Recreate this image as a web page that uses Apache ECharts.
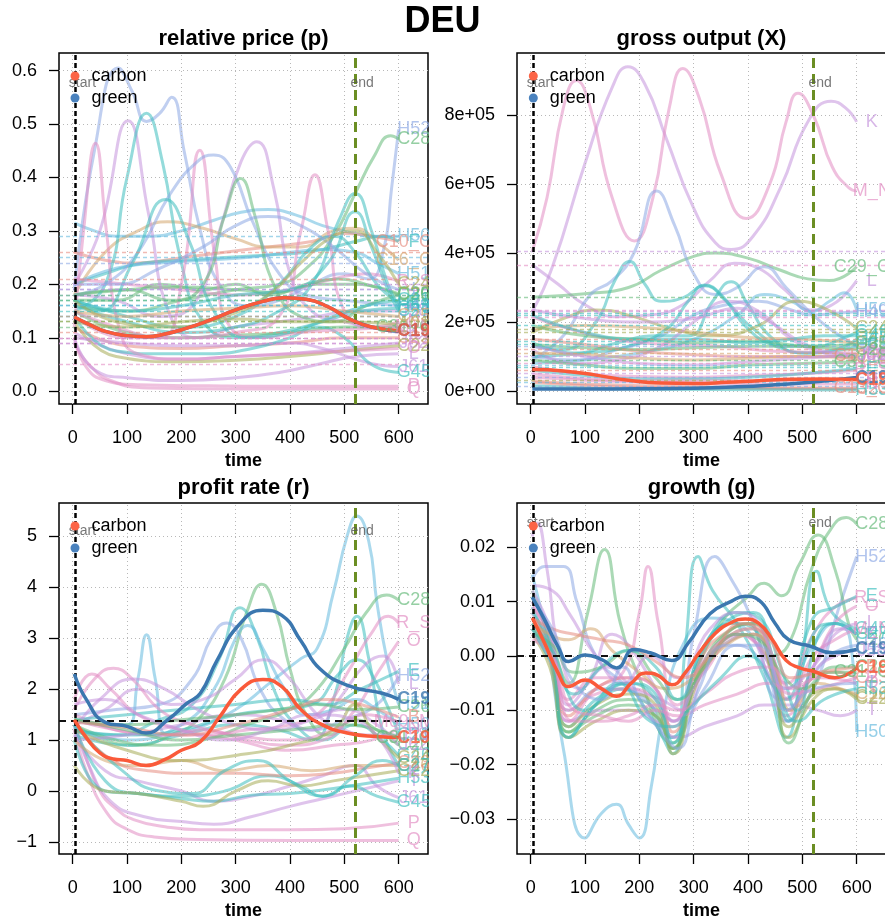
<!DOCTYPE html>
<html><head><meta charset="utf-8">
<script src="https://cdn.jsdelivr.net/npm/echarts@6/dist/echarts.min.js"></script>
<style>
body{margin:0;background:#fff;width:885px;height:921px;overflow:hidden;position:relative;font-family:"Liberation Sans",Arial,sans-serif}
.p{position:absolute;overflow:hidden}
#title{position:absolute;left:0;top:2px;width:885px;text-align:center;font-weight:bold;font-size:36px;line-height:36px;color:#000;z-index:5}
</style></head>
<body>
<div id="title">DEU</div>
<div id="c1" class="p" style="left:0;top:0;width:429px;height:475px"></div>
<div id="c2" class="p" style="left:429px;top:0;width:456px;height:475px"></div>
<div id="c3" class="p" style="left:0;top:460px;width:429px;height:461px"></div>
<div id="c4" class="p" style="left:429px;top:460px;width:456px;height:461px"></div>
<script>
// ================= DATA =================
const xTicks = [0,100,200,300,400,500,600];
const startTime = 5, endTime = 520;

// ---- relative price (p)
const priceTicks = [0,0.1,0.2,0.3,0.4,0.5,0.6];
const priceCarbon = [[3,0.139],[30,0.125],[60,0.112],[100,0.104],[135,0.102],[170,0.107],[210,0.118],[250,0.132],[300,0.152],[350,0.168],[390,0.175],[430,0.172],[470,0.158],[510,0.135],[550,0.12],[600,0.113]];
const priceGreen = [[3,0.139],[30,0.125],[60,0.112],[100,0.104],[135,0.102],[170,0.107],[210,0.118],[250,0.132],[300,0.152],[350,0.168],[390,0.175],[430,0.172],[470,0.158],[510,0.135],[550,0.12],[600,0.112]];
const priceRefs = [0.29,0.262,0.25,0.245,0.212,0.197,0.19,0.186,0.18,0.176,0.171,0.166,0.161,0.156,0.15,0.145,0.14,0.135,0.13,0.125,0.12,0.11,0.104,0.1,0.09,0.085,0.052];
const priceLines = [
 ['H52',[[3,0.19],[40,0.45],[84,0.605],[110,0.56],[136,0.505],[160,0.52],[182,0.55],[205,0.45],[235,0.3],[270,0.2],[320,0.16],[380,0.17],[440,0.2],[500,0.22],[545,0.21],[572,0.264],[587,0.38],[600,0.49]]],
 ['C28',[[3,0.16],[100,0.15],[200,0.17],[300,0.19],[380,0.2],[430,0.23],[480,0.29],[520,0.37],[555,0.44],[585,0.478],[600,0.472]]],
 ['H50',[[3,0.315],[40,0.3],[80,0.29],[140,0.29],[200,0.3],[260,0.32],[310,0.335],[360,0.34],[410,0.33],[460,0.31],[520,0.295],[560,0.29],[600,0.29]]],
 ['C10_C12',[[3,0.26],[60,0.245],[120,0.24],[200,0.25],[280,0.26],[360,0.27],[440,0.28],[500,0.295],[550,0.29],[600,0.28]]],
 ['F',[[3,0.2],[60,0.22],[130,0.24],[200,0.245],[280,0.25],[360,0.255],[430,0.26],[480,0.27],[520,0.28],[570,0.29],[600,0.28]]],
 ['C16_C18',[[3,0.18],[60,0.26],[120,0.3],[175,0.317],[240,0.305],[300,0.285],[360,0.27],[420,0.27],[480,0.3],[520,0.305],[560,0.28],[600,0.245]]],
 ['H51',[[3,0.2],[80,0.23],[160,0.24],[240,0.245],[320,0.25],[400,0.26],[460,0.265],[520,0.26],[560,0.24],[600,0.22]]],
 ['R_S',[[3,0.21],[100,0.2],[200,0.19],[300,0.18],[400,0.19],[480,0.21],[540,0.22],[600,0.205]]],
 ['C20',[[3,0.18],[100,0.19],[200,0.195],[300,0.19],[380,0.185],[450,0.2],[520,0.2],[600,0.182]]],
 ['D35',[[3,0.17],[80,0.17],[160,0.2],[240,0.19],[300,0.2],[360,0.18],[430,0.2],[490,0.21],[540,0.2],[600,0.18]]],
 ['E',[[3,0.17],[100,0.14],[200,0.12],[300,0.14],[380,0.2],[440,0.27],[480,0.29],[520,0.26],[560,0.2],[600,0.165]]],
 ['J58',[[3,0.2],[50,0.3],[102,0.506],[140,0.33],[180,0.14],[230,0.1],[300,0.12],[380,0.13],[450,0.14],[520,0.15],[600,0.15]]],
 ['G46',[[3,0.15],[60,0.2],[100,0.4],[136,0.52],[165,0.43],[200,0.24],[240,0.13],[300,0.1],[380,0.11],[460,0.13],[530,0.15],[600,0.155]]],
 ['C31_C32',[[3,0.15],[100,0.11],[200,0.1],[300,0.105],[400,0.11],[500,0.12],[600,0.12]]],
 ['C23',[[3,0.12],[100,0.085],[200,0.08],[300,0.085],[400,0.09],[500,0.1],[600,0.1]]],
 ['J62',[[3,0.11],[100,0.07],[200,0.06],[300,0.065],[400,0.07],[500,0.08],[600,0.09]]],
 ['C22',[[3,0.13],[80,0.065],[200,0.055],[300,0.058],[400,0.065],[500,0.075],[600,0.085]]],
 ['J61',[[3,0.1],[100,0.09],[200,0.085],[300,0.085],[400,0.09],[460,0.08],[520,0.06],[570,0.048],[600,0.046]]],
 ['G45',[[3,0.14],[80,0.075],[160,0.07],[250,0.07],[330,0.08],[400,0.1],[450,0.12],[500,0.1],[550,0.05],[600,0.035]]],
 ['P',[[3,0.1],[25,0.045],[60,0.02],[120,0.012],[250,0.01],[400,0.009],[600,0.009]]],
 ['Q',[[3,0.09],[30,0.05],[70,0.02],[140,0.006],[300,0.004],[600,0.004]]],
 ['O',[[3,0.12],[20,0.3],[42,0.464],[62,0.3],[85,0.12],[120,0.07],[200,0.06],[300,0.065],[400,0.07],[500,0.075],[600,0.08]]],
 ['M_N',[[3,0.15],[80,0.12],[160,0.1],[200,0.2],[234,0.451],[262,0.25],[290,0.12],[350,0.1],[420,0.11],[500,0.115],[600,0.12]]],
 ['N',[[3,0.14],[100,0.1],[200,0.1],[300,0.11],[380,0.14],[420,0.3],[446,0.405],[470,0.3],[500,0.15],[550,0.12],[600,0.13]]],
 ['K',[[3,0.18],[80,0.17],[160,0.14],[220,0.16],[270,0.3],[310,0.43],[339,0.467],[370,0.38],[400,0.22],[440,0.15],[500,0.13],[600,0.11]]],
 ['H49',[[3,0.18],[60,0.2],[120,0.26],[180,0.37],[230,0.43],[259,0.442],[290,0.42],[330,0.32],[380,0.22],[430,0.18],[500,0.17],[600,0.16]]],
 ['C26',[[3,0.18],[100,0.19],[180,0.17],[240,0.2],[280,0.33],[309,0.398],[335,0.33],[370,0.2],[420,0.14],[480,0.13],[540,0.16],[600,0.18]]],
 ['C21',[[3,0.17],[50,0.15],[110,0.24],[171,0.359],[215,0.28],[260,0.15],[320,0.1],[400,0.11],[480,0.14],[540,0.16],[600,0.17]]],
 ['H53',[[3,0.16],[100,0.13],[200,0.11],[300,0.12],[380,0.15],[440,0.2],[490,0.32],[520,0.37],[550,0.3],[580,0.2],[600,0.16]]],
 ['C27',[[3,0.17],[100,0.15],[200,0.16],[300,0.18],[400,0.19],[470,0.24],[520,0.336],[550,0.27],[580,0.19],[600,0.15]]],
 ['I',[[3,0.2],[80,0.2],[160,0.23],[240,0.27],[300,0.31],[360,0.327],[420,0.31],[480,0.27],[540,0.22],[600,0.19]]],
 ['C24',[[3,0.17],[80,0.13],[180,0.12],[280,0.14],[360,0.18],[420,0.24],[480,0.29],[520,0.3],[560,0.26],[600,0.2]]],
 ['L',[[3,0.1],[40,0.04],[100,0.025],[200,0.02],[300,0.025],[380,0.035],[450,0.05],[520,0.065],[600,0.07]]],
 ['A01',[[3,0.13],[100,0.12],[200,0.13],[300,0.135],[400,0.13],[500,0.13],[600,0.125]]],
 ['C25',[[3,0.15],[100,0.14],[200,0.15],[300,0.155],[400,0.16],[500,0.15],[600,0.14]]]
];

// ---- gross output (X)
const outputTicks = [0,200000,400000,600000,800000];
const outputCarbon = [[3,62000],[60,58000],[120,46000],[180,31000],[240,23000],[300,22000],[360,25000],[420,30000],[480,34000],[540,35000],[600,33000]];
const outputGreen = [[3,6000],[100,6000],[200,6500],[300,8000],[380,12000],[450,18000],[520,26000],[600,39000]];
const outputRefs = [405000,365000,272000,235000,230000,225000,220000,215000,190000,180000,170000,150000,145000,135000,130000,120000,110000,100000,90000,80000,75000,70000,60000,50000,40000,30000,25000,15000];
const outputLines = [
 ['K',[[3,230000],[40,360000],[100,660000],[150,880000],[179,940000],[210,890000],[250,730000],[300,530000],[340,430000],[369,410000],[410,450000],[460,590000],[510,780000],[553,840000],[580,820000],[600,780000]]],
 ['M_N',[[3,405000],[30,560000],[60,820000],[84,900000],[110,820000],[150,560000],[191,435000],[225,560000],[255,820000],[280,935000],[310,850000],[350,630000],[397,500000],[440,600000],[470,780000],[492,863000],[520,800000],[555,650000],[585,590000],[600,580000]]],
 ['L',[[3,365000],[50,310000],[100,250000],[160,215000],[220,220000],[280,250000],[330,320000],[375,370000],[420,355000],[470,290000],[515,235000],[555,250000],[600,320000]]],
 ['C29_C30',[[3,272000],[100,282000],[180,300000],[240,350000],[300,390000],[340,400000],[400,385000],[460,350000],[510,325000],[550,320000],[600,360000]]],
 ['H52',[[3,90000],[60,160000],[110,280000],[150,320000],[190,400000],[232,580000],[265,480000],[300,340000],[340,280000],[380,300000],[430,360000],[470,300000],[520,220000],[560,170000],[600,130000]]],
 ['H50',[[3,80000],[100,90000],[200,110000],[300,150000],[380,220000],[430,280000],[480,260000],[516,230000],[550,260000],[578,285000],[600,235000]]],
 ['H49',[[3,100000],[80,90000],[160,120000],[240,160000],[300,220000],[360,250000],[420,260000],[470,240000],[520,220000],[560,225000],[600,230000]]],
 ['G46',[[3,130000],[60,120000],[120,200000],[155,320000],[182,375000],[210,310000],[240,260000],[280,270000],[320,305000],[360,260000],[410,180000],[470,130000],[530,130000],[570,150000],[600,170000]]],
 ['G45',[[3,140000],[80,110000],[160,140000],[230,160000],[290,160000],[335,260000],[369,317000],[400,250000],[440,160000],[500,110000],[560,120000],[600,150000]]],
 ['C24',[[3,170000],[60,210000],[120,235000],[180,220000],[260,180000],[340,160000],[420,190000],[490,260000],[540,240000],[600,182000]]],
 ['C25',[[3,180000],[100,190000],[200,185000],[300,170000],[400,155000],[500,150000],[600,140000]]],
 ['J62',[[3,120000],[80,80000],[160,90000],[240,130000],[300,200000],[363,260000],[420,230000],[480,150000],[540,110000],[600,95000]]],
 ['F',[[3,100000],[100,110000],[180,130000],[250,180000],[290,260000],[320,307000],[350,280000],[400,180000],[450,130000],[520,110000],[600,130000]]],
 ['C10_C12',[[3,150000],[100,135000],[200,115000],[300,105000],[400,100000],[500,100000],[600,100000]]],
 ['C16',[[3,110000],[100,105000],[200,95000],[300,90000],[400,95000],[500,100000],[600,95000]]],
 ['J58',[[3,130000],[100,100000],[200,80000],[300,75000],[400,85000],[500,95000],[600,105000]]],
 ['C31_C32',[[3,90000],[100,75000],[200,65000],[300,65000],[400,75000],[500,80000],[600,85000]]],
 ['R_S',[[3,70000],[100,50000],[200,42000],[300,40000],[400,45000],[500,50000],[600,60000]]],
 ['E',[[3,60000],[100,45000],[200,35000],[300,35000],[400,40000],[500,50000],[600,65000]]],
 ['C13_C15',[[3,30000],[100,20000],[300,12000],[600,8000]]],
 ['C23',[[3,25000],[200,10000],[600,6000]]],
 ['H53',[[3,15000],[200,5000],[600,3000]]],
 ['O',[[3,215000],[60,185000],[150,150000],[250,135000],[350,130000],[450,115000],[600,110000]]],
 ['J61',[[3,235000],[100,210000],[200,200000],[300,210000],[380,240000],[440,200000],[500,140000],[560,110000],[600,105000]]],
 ['C28',[[3,190000],[100,160000],[200,150000],[300,140000],[400,145000],[500,130000],[600,120000]]],
 ['G47',[[3,220000],[100,170000],[200,150000],[300,150000],[400,140000],[480,150000],[540,160000],[600,160000]]],
 ['P',[[3,50000],[200,30000],[400,30000],[600,35000]]],
 ['N',[[3,40000],[200,25000],[400,20000],[600,20000]]],
 ['D35',[[3,135000],[100,125000],[200,120000],[300,125000],[400,130000],[500,130000],[600,135000]]]
];

// ---- profit rate (r)
const profitTicks = [-1,0,1,2,3,4,5];
const profitLevel = 1.39;
const profitCarbon = [[3,1.4],[25,1.05],[50,0.75],[75,0.63],[100,0.6],[135,0.5],[170,0.62],[200,0.8],[235,0.97],[270,1.45],[310,2.0],[350,2.19],[385,2.05],[420,1.6],[460,1.3],[510,1.13],[560,1.07],[600,1.05]];
const profitGreen = [[3,2.3],[25,1.8],[60,1.35],[100,1.27],[135,1.14],[175,1.4],[210,1.72],[235,1.92],[265,2.55],[305,3.25],[350,3.55],[385,3.45],[420,2.95],[455,2.4],[510,2.06],[570,1.92],[600,1.8]];
const profitLines = [
 ['H51',[[3,1.4],[60,1.3],[100,1.3],[120,2.2],[136,3.07],[152,2.2],[175,1.1],[220,1.2],[300,1.6],[360,2.1],[420,2.6],[450,2.8],[480,3.9],[505,5.0],[523,5.4],[545,4.9],[560,3.7],[580,2.5],[600,1.7]]],
 ['C20',[[3,1.3],[60,1.0],[120,0.9],[180,1.1],[230,1.4],[280,2.2],[320,3.5],[348,4.06],[375,3.5],[400,2.4],[430,1.5],[470,1.1],[520,1.4],[560,1.2],[600,0.9]]],
 ['G46',[[3,1.2],[80,1.1],[160,1.4],[220,1.7],[270,2.6],[308,3.6],[340,3.0],[370,2.0],[410,1.3],[460,1.0],[520,1.3],[570,1.0],[600,0.7]]],
 ['H52',[[3,1.5],[80,1.6],[160,1.7],[220,2.2],[255,3.0],[283,3.3],[310,3.0],[345,2.0],[390,1.4],[440,1.2],[500,1.4],[560,1.7],[600,2.25]]],
 ['H50',[[3,1.2],[100,1.0],[200,1.3],[260,2.0],[300,3.0],[322,3.25],[350,2.8],[390,2.0],[430,1.5],[480,1.6],[520,1.8],[560,1.6],[600,1.3]]],
 ['G47',[[3,1.1],[100,0.9],[200,1.1],[300,1.3],[380,1.2],[440,1.0],[480,1.8],[505,3.0],[523,3.43],[545,2.6],[570,1.2],[600,0.5]]],
 ['C28',[[3,1.3],[80,1.0],[160,0.9],[240,1.0],[320,1.3],[400,1.6],[450,2.0],[500,2.8],[540,3.5],[578,3.85],[600,3.75]]],
 ['R_S',[[3,1.4],[80,1.2],[160,1.1],[240,1.1],[320,1.2],[400,1.3],[460,1.6],[510,2.4],[550,3.1],[581,3.43],[600,3.3]]],
 ['O',[[3,1.5],[80,1.2],[160,1.1],[240,1.2],[320,1.0],[400,0.9],[460,1.0],[520,1.6],[560,2.3],[600,2.94]]],
 ['C21',[[3,1.2],[100,1.1],[200,1.2],[300,1.5],[380,1.6],[440,1.7],[490,2.3],[523,2.58],[555,2.2],[600,1.1]]],
 ['J58',[[3,1.3],[60,1.6],[120,2.0],[180,1.7],[240,1.8],[300,2.2],[351,2.58],[400,2.2],[450,1.5],[500,1.2],[550,1.1],[600,1.1]]],
 ['L',[[3,1.0],[100,1.1],[200,1.3],[300,1.5],[380,1.4],[440,1.2],[490,1.8],[540,2.5],[572,2.65],[600,2.1]]],
 ['E',[[3,1.4],[100,1.5],[200,1.6],[300,1.7],[400,1.8],[470,1.7],[530,2.0],[570,2.2],[600,2.35]]],
 ['M69_M70',[[3,1.6],[40,2.2],[75,2.41],[110,2.2],[160,1.6],[220,1.3],[300,1.1],[400,1.0],[480,1.2],[540,1.5],[600,1.35]]],
 ['J62',[[3,1.2],[50,1.8],[112,2.2],[170,2.0],[230,1.6],[300,1.3],[370,1.2],[440,1.4],[500,1.6],[560,1.3],[600,0.9]]],
 ['N',[[3,1.8],[35,2.3],[70,2.0],[120,1.5],[200,1.2],[300,1.0],[400,0.8],[480,0.9],[550,1.0],[600,1.25]]],
 ['P',[[3,1.4],[20,0.8],[50,0.0],[80,-0.35],[112,-0.56],[170,-0.7],[234,-0.76],[400,-0.76],[500,-0.74],[600,-0.63]]],
 ['Q',[[3,1.2],[25,0.4],[63,-0.43],[100,-0.75],[150,-0.9],[230,-0.95],[400,-0.97],[600,-0.97]]],
 ['T',[[3,1.3],[30,0.5],[70,-0.2],[130,-0.5],[200,-0.6],[260,-0.65],[330,-0.5],[400,-0.3],[460,-0.15],[520,0.0],[600,0.2]]],
 ['J61',[[3,1.1],[60,0.4],[120,0.2],[200,0.0],[260,-0.2],[330,-0.1],[400,0.1],[460,0.3],[520,0.5],[560,0.1],[600,-0.13]]],
 ['G45',[[3,1.3],[60,0.2],[120,-0.05],[200,-0.1],[280,0.0],[360,0.3],[420,0.1],[460,-0.1],[510,0.1],[560,-0.1],[600,-0.22]]],
 ['H53',[[3,1.0],[60,0.0],[120,-0.05],[200,-0.15],[260,-0.2],[330,-0.08],[400,-0.05],[480,0.05],[540,0.15],[600,0.25]]],
 ['C22',[[3,0.5],[60,0.0],[120,-0.05],[200,-0.2],[240,-0.3],[300,0.0],[360,0.2],[420,0.1],[480,0.2],[540,0.3],[600,0.4]]],
 ['C16',[[3,1.0],[60,0.6],[120,0.5],[200,0.6],[280,0.4],[360,0.5],[440,0.4],[520,0.5],[600,0.5]]],
 ['C23',[[3,1.4],[60,0.7],[140,0.4],[220,0.35],[300,0.35],[400,0.3],[480,0.35],[540,0.45],[600,0.55]]],
 ['C24',[[3,1.2],[100,0.8],[200,0.6],[300,0.7],[400,0.9],[480,1.2],[520,1.7],[550,1.2],[600,0.65]]],
 ['C26',[[3,1.4],[100,1.3],[200,1.4],[300,1.5],[380,1.6],[450,1.7],[520,1.6],[600,1.65]]],
 ['C31_C32',[[3,1.4],[100,1.2],[200,1.0],[300,1.1],[400,1.2],[500,1.3],[600,1.05]]],
 ['C27',[[3,1.3],[80,0.5],[160,0.0],[220,-0.05],[280,0.4],[340,0.6],[400,0.2],[460,-0.1],[520,0.3],[570,0.6],[600,0.5]]],
 ['K',[[3,1.7],[60,1.8],[120,1.5],[200,1.2],[280,1.0],[360,1.2],[440,1.5],[520,1.4],[600,0.35]]],
 ['B',[[3,1.35],[100,1.25],[200,1.1],[300,1.3],[400,1.6],[470,1.8],[530,1.7],[600,1.45]]]
];

// ---- growth (g)
const growthTicks = [-0.03,-0.02,-0.01,0,0.01,0.02];
const growthLevel = 0;
const growthCarbon = [[3,0.007],[25,0.0025],[50,-0.003],[70,-0.0056],[100,-0.0044],[130,-0.006],[158,-0.0074],[185,-0.005],[212,-0.0031],[235,-0.0036],[260,-0.0053],[285,-0.003],[310,0.0006],[340,0.0042],[370,0.0062],[395,0.0068],[420,0.006],[445,0.003],[470,-0.0008],[495,-0.0022],[520,-0.0028],[560,-0.004],[600,-0.0022]];
const growthGreen = [[3,0.0108],[25,0.0068],[50,0.0018],[70,-0.001],[100,0.0002],[130,-0.0006],[158,-0.0022],[190,0.0012],[220,0.0006],[260,-0.0008],[290,0.0024],[330,0.0078],[370,0.0101],[395,0.011],[420,0.0103],[450,0.006],[475,0.003],[515,0.0018],[555,0.0006],[600,0.0012]];
const growthLines = [
 ['H50',[[3,0.015],[30,0.003],[60,-0.017],[100,-0.0335],[130,-0.029],[158,-0.0273],[180,-0.031],[200,-0.0335],[222,-0.024],[245,-0.01],[280,0.002],[330,0.007],[380,0.006],[430,0.0],[470,-0.006],[520,0.002],[560,0.006],[588,0.003],[600,-0.014]]],
 ['C28',[[3,0.005],[35,0.0],[70,-0.014],[120,-0.01],[180,-0.008],[230,-0.01],[260,-0.017],[310,-0.003],[360,0.004],[400,0.006],[440,0.0],[474,0.002],[517,0.016],[550,0.023],[581,0.0255],[600,0.0243]]],
 ['H52',[[3,0.006],[35,0.0],[70,-0.01],[130,-0.006],[200,-0.007],[260,-0.015],[320,-0.006],[380,0.002],[430,-0.002],[470,-0.012],[520,-0.006],[566,0.0085],[600,0.0183]]],
 ['C20',[[3,0.012],[40,0.002],[70,-0.005],[105,0.008],[136,0.0196],[165,0.006],[200,-0.004],[260,-0.016],[300,-0.004],[350,0.006],[400,0.011],[430,0.0134],[461,0.0111],[495,0.017],[529,0.0223],[560,0.016],[585,0.006],[600,0.003]]],
 ['G46',[[3,0.009],[35,0.0],[70,-0.015],[120,-0.009],[170,-0.006],[220,-0.011],[262,-0.018],[285,0.002],[308,0.0183],[335,0.012],[380,0.006],[430,-0.004],[470,-0.015],[500,0.0],[526,0.0156],[555,0.008],[600,0.005]]],
 ['H49',[[3,0.014],[25,0.0165],[60,0.0165],[85,0.01],[120,0.0],[170,-0.005],[220,-0.009],[265,-0.012],[300,0.004],[339,0.0183],[370,0.014],[410,0.006],[460,-0.008],[500,-0.006],[550,0.0],[600,0.002]]],
 ['O',[[3,0.008],[35,0.0],[70,-0.012],[120,-0.006],[170,-0.003],[200,0.008],[216,0.0165],[235,0.006],[270,-0.009],[320,-0.003],[380,0.004],[430,0.0],[470,-0.011],[520,-0.002],[560,0.006],[600,0.0092]]],
 ['K',[[3,0.022],[12,0.0245],[30,0.016],[55,0.0],[90,-0.006],[140,-0.002],[190,-0.006],[240,-0.008],[280,-0.01],[330,0.0],[390,0.004],[440,-0.004],[475,-0.012],[530,0.0],[570,0.005],[600,0.004]]],
 ['R_S',[[3,0.01],[35,0.002],[70,-0.01],[120,-0.007],[180,-0.006],[230,-0.008],[260,-0.013],[320,-0.002],[380,0.004],[420,0.002],[470,-0.005],[520,0.004],[560,0.009],[600,0.0107]]],
 ['E',[[3,0.011],[35,0.003],[70,-0.013],[120,-0.008],[180,-0.005],[230,-0.007],[260,-0.015],[310,-0.001],[370,0.006],[420,0.004],[470,-0.008],[520,0.007],[560,0.009],[600,0.011]]],
 ['T',[[3,0.005],[40,-0.002],[70,-0.012],[130,-0.01],[180,-0.01],[230,-0.012],[270,-0.015],[320,-0.013],[380,-0.011],[430,-0.009],[480,-0.009],[530,-0.01],[570,-0.011],[600,-0.01]]],
 ['C24',[[3,0.004],[35,-0.002],[70,-0.015],[120,-0.012],[180,-0.01],[230,-0.011],[262,-0.018],[310,-0.004],[370,0.004],[410,0.005],[445,-0.004],[475,-0.015],[520,-0.008],[560,-0.006],[600,-0.0075]]],
 ['C22',[[3,0.006],[35,0.001],[70,-0.013],[120,-0.009],[180,-0.007],[230,-0.009],[262,-0.017],[310,-0.003],[370,0.003],[410,0.004],[445,-0.003],[475,-0.013],[520,-0.007],[560,-0.006],[600,-0.008]]],
 ['C23',[[3,0.007],[35,0.002],[70,-0.011],[120,-0.006],[180,-0.004],[230,-0.006],[262,-0.014],[310,-0.001],[370,0.005],[410,0.006],[445,0.0],[475,-0.01],[520,-0.004],[560,-0.003],[600,-0.004]]],
 ['C26',[[3,0.005],[35,0.0],[70,-0.014],[120,-0.011],[180,-0.009],[230,-0.011],[262,-0.017],[310,-0.003],[370,0.005],[410,0.006],[445,-0.003],[475,-0.016],[520,-0.006],[560,-0.002],[600,-0.002]]],
 ['C27',[[3,0.008],[35,0.002],[70,-0.015],[120,-0.009],[180,-0.005],[230,-0.008],[262,-0.016],[310,0.0],[370,0.007],[410,0.008],[445,0.0],[475,-0.012],[520,0.004],[560,0.006],[600,0.004]]],
 ['M_N',[[3,0.009],[35,0.004],[70,-0.008],[120,-0.004],[180,-0.004],[230,-0.006],[262,-0.012],[310,-0.002],[370,0.004],[410,0.005],[445,0.0],[475,-0.008],[520,0.0],[560,0.003],[600,0.005]]],
 ['J58',[[3,0.012],[35,0.005],[70,-0.009],[110,-0.004],[150,0.004],[180,0.002],[230,-0.006],[262,-0.012],[310,-0.004],[370,0.003],[410,0.004],[445,-0.002],[475,-0.01],[520,-0.003],[560,0.0],[600,0.001]]],
 ['C16',[[3,0.006],[35,0.004],[70,0.003],[110,0.005],[150,0.001],[200,-0.003],[250,-0.006],[300,-0.004],[360,0.002],[410,0.004],[450,-0.002],[480,-0.01],[530,-0.005],[570,-0.006],[600,-0.007]]],
 ['C31_C32',[[3,0.004],[40,0.002],[80,-0.003],[130,-0.002],[180,0.001],[230,-0.004],[270,-0.008],[320,-0.002],[380,0.004],[420,0.003],[460,-0.003],[500,-0.006],[550,-0.003],[600,-0.003]]],
 ['F',[[3,0.006],[40,0.001],[80,-0.007],[130,-0.002],[180,0.001],[230,-0.002],[270,-0.008],[320,0.002],[380,0.008],[420,0.007],[460,-0.002],[490,-0.01],[530,0.004],[560,0.006],[600,0.004]]],
 ['L',[[3,0.013],[40,0.012],[70,0.008],[120,0.0],[170,-0.005],[220,0.0],[270,-0.004],[330,0.005],[380,0.008],[420,0.006],[470,-0.006],[520,-0.002],[560,0.004],[600,0.006]]],
 ['B',[[3,0.007],[40,0.005],[80,0.004],[130,0.003],[180,0.002],[230,-0.001],[280,-0.004],[330,0.0],[390,0.006],[440,0.003],[480,-0.004],[530,-0.003],[600,-0.002]]],
 ['P',[[3,0.003],[40,0.0],[80,-0.01],[130,-0.011],[180,-0.012],[230,-0.01],[270,-0.011],[320,-0.009],[380,-0.007],[440,-0.005],[480,-0.007],[530,-0.006],[600,-0.004]]],
 ['Q',[[3,0.004],[40,-0.001],[80,-0.012],[130,-0.012],[180,-0.011],[230,-0.009],[270,-0.01],[320,-0.007],[380,-0.003],[440,-0.002],[480,-0.006],[530,-0.004],[600,-0.005]]],
 ['H53',[[3,0.005],[50,-0.003],[100,-0.01],[160,-0.005],[220,-0.012],[262,-0.013],[290,-0.01],[350,-0.004],[400,0.0],[450,-0.006],[490,-0.012],[540,-0.008],[600,-0.006]]],
 ['I',[[3,0.01],[40,0.005],[80,-0.005],[130,-0.008],[170,-0.002],[200,-0.008],[240,-0.014],[270,-0.017],[310,-0.006],[360,0.002],[420,0.002],[470,-0.01],[520,-0.006],[600,-0.005]]]
];

// ================= STYLE =================
const FONT = '"Liberation Sans", Arial, Helvetica, sans-serif';
const PAL = {pk:[226,140,195],li:[196,148,220],pw:[140,168,228],sb:[100,185,222],te:[60,190,190],gr:[100,185,120],ol:[165,172,85],ta:[212,165,110],sa:[230,140,128]};
const colorOf = {H52:'pw',C28:'gr',H50:'sb',C10_C12:'sa',F:'te',C16_C18:'ta',H51:'sb',R_S:'pk',C20:'gr',D35:'gr',E:'te',J58:'li',G46:'te',C31_C32:'gr',C23:'sa',J62:'li',C22:'ol',J61:'li',G45:'te',P:'pk',Q:'pk',O:'pk',M_N:'pk',N:'pk',K:'li',H49:'pw',C26:'gr',C21:'te',H53:'te',C27:'te',I:'pw',C24:'ol',L:'li',A01:'ol',C25:'ta',C16:'ta',C13_C15:'sa',G47:'te',T:'li',M69_M70:'pk',B:'sa',C29_C30:'gr'};
const priceRefColors = ['sb','sa','sb','pw','sa','li','pw','li','pw','gr','te','gr','te','sb','te','pw','sb','ta','gr','ol','gr','sa','li','pk','pk','li','pk'];
const outputRefColors = ['li','pk','gr','pk','li','te','te','pk','te','ol','ol','sa','te','te','pw','sa','ta','li','gr','pk','sb','te','sa','li','pw','ol','sb','pw'];
const CARBON = '#FA5A3A', GREEN = '#3B77AF';
const LABEL_T = 628;
function rgba(k,a){const c=PAL[k]||PAL.pw;return 'rgba('+c[0]+','+c[1]+','+c[2]+','+a+')';}

function buildPanel(elId, cfg){
  const chart = echarts.init(document.getElementById(elId), null, {renderer:'canvas'});
  const series = [];
  series.push({type:'line', data:[], silent:true, z:1, animation:false,
    markLine:{symbol:['none','none'], silent:true, animation:false, label:{show:false},
      lineStyle:{type:[1,3], color:'#b8b8b8', width:1},
      data:[...xTicks.map(v=>({xAxis:v})), ...cfg.yTicks.map(v=>({yAxis:v}))]}});
  if (cfg.refs) series.push({type:'line', data:[], silent:true, z:2, animation:false,
    markLine:{symbol:['none','none'], silent:true, animation:false, label:{show:false},
      data: cfg.refs.map((v,i)=>({yAxis:v, lineStyle:{type:[4,3], width:1.3, color: rgba(cfg.refColors[i%cfg.refColors.length],0.6)}}))}});
  cfg.lines.forEach(([n,pts])=>{
    series.push({type:'line', name:n, data:pts, smooth:0.5, showSymbol:false, symbol:'none',
      silent:true, animation:false, z:3, lineStyle:{color:rgba(colorOf[n],0.55), width:3}, emphasis:{disabled:true}});
  });
  series.push({type:'line', name:'green', data:cfg.green, smooth:0.5, showSymbol:false, symbol:'circle', silent:true, animation:false, z:5, itemStyle:{color:'#4A82BE', borderWidth:0}, lineStyle:{color:GREEN, width:3.5}});
  series.push({type:'line', name:'carbon', data:cfg.carbon, smooth:0.5, showSymbol:false, symbol:'circle', silent:true, animation:false, z:5, itemStyle:{color:'#FC6446', borderWidth:0}, lineStyle:{color:CARBON, width:3.5}});
  const vl = [
    {xAxis:startTime, lineStyle:{color:'#000', type:[5,3], width:2.5}},
    {xAxis:endTime, lineStyle:{color:'#6B8E23', type:[10,6], width:3}}
  ];
  if (cfg.level !== undefined) vl.push({yAxis:cfg.level, lineStyle:{color:'#111', type:[7,5], width:2}});
  series.push({type:'line', data:[], silent:true, z:6, animation:false,
    markLine:{symbol:['none','none'], silent:true, animation:false, label:{show:false}, data:vl}});
  series.push({type:'scatter', symbolSize:0.1, silent:true, z:7, animation:false, itemStyle:{color:'rgba(0,0,0,0)'},
    label:{show:true, position:'inside', offset:[7,0], fontSize:14, fontFamily:FONT, color:'#555'},
    data:[{value:[startTime,cfg.txtY], label:{formatter:'start'}}, {value:[endTime,cfg.txtY], label:{formatter:'end'}}]});
  const lab = cfg.lines.map(([n,pts])=>({value:[LABEL_T, pts[pts.length-1][1]], label:{formatter:n, color:rgba(colorOf[n],0.85)}}));
  lab.push({value:[LABEL_T, cfg.green[cfg.green.length-1][1]], label:{formatter:'C19', color:GREEN, fontWeight:'bold'}});
  lab.push({value:[LABEL_T, cfg.carbon[cfg.carbon.length-1][1]], label:{formatter:'C19', color:CARBON, fontWeight:'bold'}});
  series.push({type:'scatter', symbolSize:0.1, silent:true, z:8, animation:false, itemStyle:{color:'rgba(0,0,0,0)'},
    label:{show:true, position:'inside', fontSize:18, fontFamily:FONT}, data:lab});

  const g = cfg.grid;
  const option = {
    animation:false,
    textStyle:{fontFamily:FONT},
    grid:{left:g[0], right:g[1], top:g[2], bottom:g[3], outerBoundsMode:'none', containLabel:false, show:true, borderColor:'#000', borderWidth:1.5, backgroundColor:'transparent'},
    graphic:[{type:'text', x:cfg.titleX, y:cfg.titleY, silent:true,
      style:{text:cfg.title, align:'center', verticalAlign:'middle', font:'bold 22px '+FONT, fill:'#000'}}],
    legend:{show:true, z:20, zlevel:0, selectedMode:false, orient:'vertical', left:cfg.legend[0], top:cfg.legend[1], padding:0, icon:'circle', itemWidth:9, itemHeight:9, itemGap:4,
      itemStyle:{borderWidth:0, borderColor:'transparent'},
      textStyle:{fontSize:18, lineHeight:18, color:'#000', fontFamily:FONT, padding:[0,0,0,7]},
      data:['carbon','green']},
    xAxis:{type:'value', min:-25.2, max:654, name:'time', nameLocation:'middle', nameGap:47,
      nameTextStyle:{fontSize:18, fontWeight:'bold', color:'#000', fontFamily:FONT},
      axisLine:{show:false, onZero:false}, splitLine:{show:false},
      axisTick:{show:true, length:10, customValues:xTicks, lineStyle:{color:'#000', width:1.3}},
      axisLabel:{customValues:xTicks, fontSize:18, color:'#000', margin:25, fontFamily:FONT}},
    yAxis:{type:'value', min:cfg.yMin, max:cfg.yMax, axisLine:{show:false, onZero:false}, splitLine:{show:false},
      axisTick:{show:true, length:10, customValues:cfg.yTicks, lineStyle:{color:'#000', width:1.3}},
      axisLabel:{customValues:cfg.yTicks, fontSize:18, color:'#000', margin:22, fontFamily:FONT, formatter:cfg.yFmt}},
    series
  };
  chart.setOption(option);
}

const minus = '\u2212';
buildPanel('c1', {grid:[59,1,53,71], yMin:-0.024, yMax:0.633, yTicks:priceTicks, yFmt:v=>v.toFixed(1),
  title:'relative price (p)', titleX:243.5, titleY:38.5, legend:[70.5,67], txtY:0.577,
  lines:priceLines, carbon:priceCarbon, green:priceGreen, refs:priceRefs, refColors:priceRefColors});
buildPanel('c2', {grid:[88,-1,53,71], yMin:-37700, yMax:979700, yTicks:outputTicks,
  yFmt:v=> v===0 ? '0e+00' : (Math.round(v/1e5))+'e+05',
  title:'gross output (X)', titleX:272.5, titleY:38.5, legend:[99.8,67], txtY:893000,
  lines:outputLines, carbon:outputCarbon, green:outputGreen, refs:outputRefs, refColors:outputRefColors});
buildPanel('c3', {grid:[59,1,43,67], yMin:-1.236, yMax:5.656, yTicks:profitTicks,
  yFmt:v=> v<0 ? minus+Math.abs(v) : String(v),
  title:'profit rate (r)', titleX:243.5, titleY:27.5, legend:[70.5,57], txtY:5.1, level:profitLevel,
  lines:profitLines, carbon:profitCarbon, green:profitGreen});
buildPanel('c4', {grid:[88,-1,43,67], yMin:-0.03644, yMax:0.02817, yTicks:growthTicks,
  yFmt:v=> (v<0?minus:'')+Math.abs(v).toFixed(2),
  title:'growth (g)', titleX:272.5, titleY:27.5, legend:[99.8,57], txtY:0.0245, level:growthLevel,
  lines:growthLines, carbon:growthCarbon, green:growthGreen});
</script>
</body></html>
